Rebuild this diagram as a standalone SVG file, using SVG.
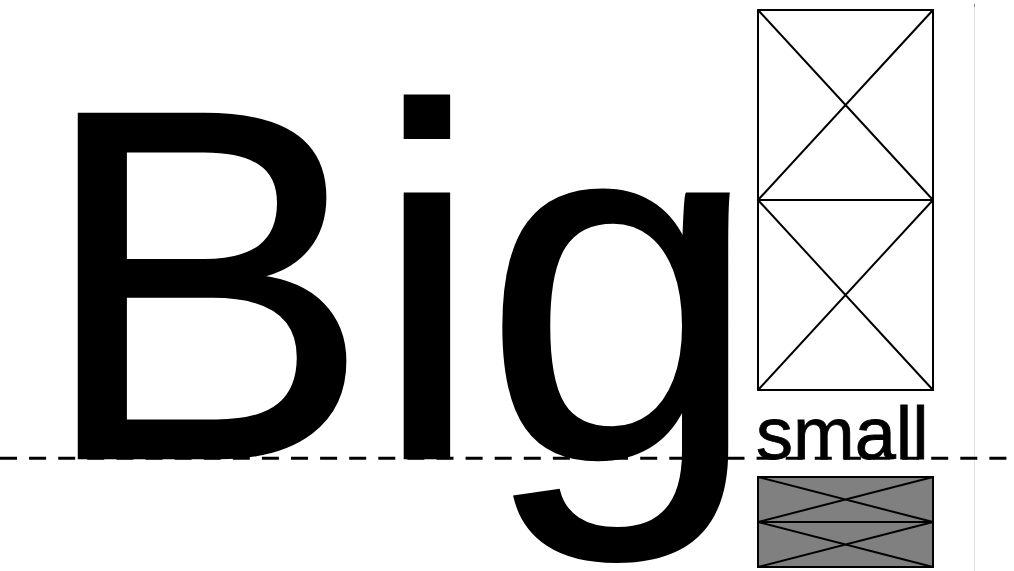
<svg xmlns="http://www.w3.org/2000/svg" width="1014" height="571" viewBox="0 0 1014 571">
<style>
.t{font-family:"Liberation Sans",Arial,sans-serif;fill:#000}
.box{fill:#fff;stroke:#000;stroke-width:2}
.gbox{fill:#808080;stroke:#000;stroke-width:2}
.x{stroke:#000;stroke-width:2;fill:none}
</style>
<rect width="1014" height="571" fill="#fff"/>
<line x1="974.5" y1="4" x2="974.5" y2="571" stroke="#e2e2e2" stroke-width="1"/>
<line x1="974.5" y1="4" x2="974.5" y2="7" stroke="#888" stroke-width="1"/>
<g id="big"><text class="t" x="38" y="458" font-size="500" stroke="#000" stroke-width="2.5">Big</text></g>
<g id="small"><text class="t" x="756" y="458.5" font-size="74" stroke="#000" stroke-width="0.8">small</text></g>
<g id="box-top">
<rect class="box" x="758" y="10" width="175" height="190"/>
<path class="x" d="M758 10L933 200M933 10L758 200"/>
</g>
<g id="box-mid">
<rect class="box" x="758" y="200" width="175" height="190"/>
<path class="x" d="M758 200L933 390M933 200L758 390"/>
</g>
<g id="box-gray-top">
<rect class="gbox" x="758" y="477" width="175" height="45"/>
<path class="x" d="M758 477L933 522M933 477L758 522"/>
</g>
<g id="box-gray-bottom">
<rect class="gbox" x="758" y="522" width="175" height="45"/>
<path class="x" d="M758 522L933 567M933 522L758 567"/>
</g>
<g id="connectors">
<line x1="0" y1="458.3" x2="1014" y2="458.3" stroke="#000" stroke-width="3" stroke-dasharray="17 12.1"/>
</g>
</svg>
